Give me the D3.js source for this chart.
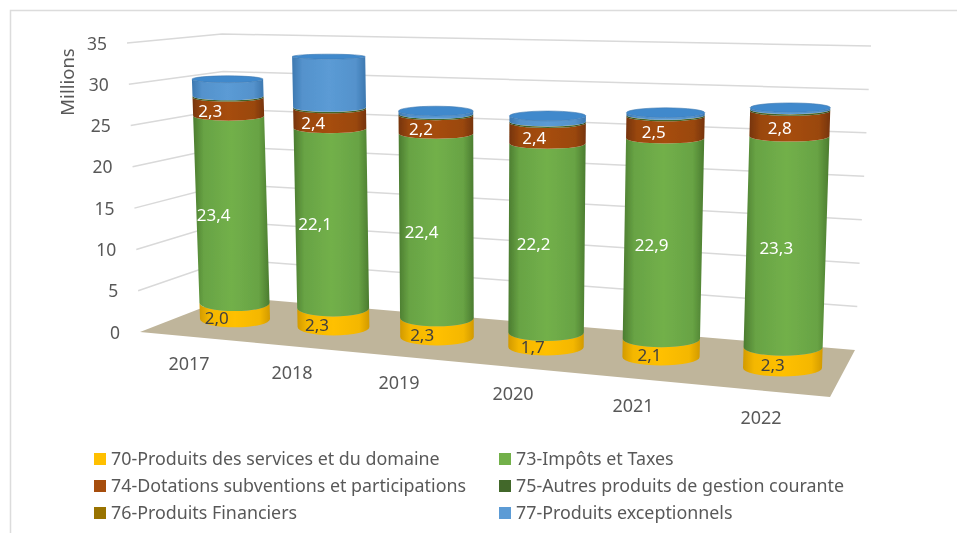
<!DOCTYPE html>
<html><head><meta charset="utf-8">
<script src="https://cdn.jsdelivr.net/npm/d3@7"></script>
<style>html,body{margin:0;padding:0;background:#fff}svg{display:block}text{font-family:"Noto Sans",sans-serif}</style>
</head><body><svg id="c" width="957" height="533"></svg>
<script>
// ---- data ----
const years = ["2017","2018","2019","2020","2021","2022"];
const produits70 = [2.0,2.3,2.3,1.7,2.1,2.3];
const impots73   = [23.4,22.1,22.4,22.2,22.9,23.3];
const dotations74= [2.3,2.4,2.2,2.4,2.5,2.8];
const autres75   = [0.15,0.15,0.15,0.15,0.15,0.15];
const financiers76=[0.02,0.02,0.02,0.02,0.02,0.02];
const exception77= [2.1,6.2,0.35,0.65,0.25,0.2];
const seriesNames = ["70-Produits des services et du domaine","73-Impôts et Taxes","74-Dotations subventions et participations","75-Autres produits de gestion courante","76-Produits Financiers","77-Produits exceptionnels"];
const yTicks = [0,5,10,15,20,25,30,35];
const fmt = v => d3.format(".1f")(v).replace(".",",");

// ---- styles / layout ----
const colors = ["#ffc000","#72b04a","#a64d10","#43682b","#997300","#5b9bd5"];
const edges  = ["#d29a00","#4b7c30","#76340a","#2f4a1e","#6f5400","#3d78b0"];
const series = [produits70,impots73,dotations74,autres75,financiers76,exception77];
const idx = d3.range(years.length);

// perspective scales
const baseX  = d3.scaleLinear().domain(idx).range([235,333.5,437,546,661,782.5]);
const baseY  = d3.scaleLinear().domain(idx).range([319,327,337,347,357,368]);
const unit   = d3.scaleLinear().domain(idx).range([8.0,8.15,8.24,8.52,8.75,9.05]);
const lean   = d3.scaleLinear().domain([0,5]).range([-0.25,0.27]);
const halfW  = d3.scaleLinear().domain([0,5]).range([35,39.5]);
const ryByY  = d3.scaleLinear().domain([60,110,330]).range([2.5,4.8,8.5]).clamp(true);
const labelDx= d3.scaleLinear().domain([0,5]).range([-18,-10]);
const px = (i,v)=>baseX(i)+lean(i)*v;
const py = (i,v)=>baseY(i)-unit(i)*v;
const rr = (i,v)=>ryByY(py(i,v));
const hw = (i,v)=>halfW(i)+v*0.02;

// wall / floor scales
const leftX = d3.scaleLinear().domain([0,35]).range([140,127]);
const leftY = d3.scaleLinear().domain([0,35]).range([332,43]);
const cornerX = d3.scaleLinear().domain([0,35]).range([230,222]);
const cornerY = d3.scaleLinear().domain([0,35]).range([297,34]);
const rightX = d3.scaleLinear().domain([0,35]).range([855,871]);
const rightY = d3.scaleLinear().domain([0,35]).range([350,46]);
const tickX = d3.scaleLinear().domain([0,35]).range([120,107]);
const tickY = d3.scaleLinear().domain([0,35]).range([332,43]);

const svg = d3.select("#c");
const defs = svg.append("defs");
const blur = defs.append("filter").attr("id","soft").attr("x","-2%").attr("y","-2%").attr("width","104%").attr("height","104%");
blur.append("feGaussianBlur").attr("stdDeviation",0.4);
colors.forEach((c,k)=>{
  const g = defs.append("linearGradient").attr("id","g"+k);
  [[0,edges[k]],[0.14,d3.interpolateRgb(edges[k],c)(0.75)],[0.5,c],[0.86,d3.interpolateRgb(edges[k],c)(0.75)],[1,edges[k]]]
    .forEach(s=>g.append("stop").attr("offset",s[0]).attr("stop-color",s[1]));
});
const root = svg.append("g").attr("filter","url(#soft)");

// frame
root.append("path").attr("d","M10.5,533V10.5H957").attr("fill","none").attr("stroke","#dcdcdc").attr("stroke-width",1.5);

// floor
root.append("path").attr("fill","#bfb59b")
  .attr("d",d3.line()([[leftX(0),leftY(0)],[cornerX(0),cornerY(0)],[rightX(0),rightY(0)],[830,397]])+"Z");

// grid
root.append("g").selectAll("path").data(yTicks.slice(1)).join("path")
  .attr("fill","none").attr("stroke","#d9d9d9").attr("stroke-width",1.5)
  .attr("d",v=>d3.line()([[leftX(v),leftY(v)],[cornerX(v),cornerY(v)],[rightX(v),rightY(v)]]));

// y ticks
root.append("g").selectAll("text").data(yTicks).join("text")
  .attr("x",tickX).attr("y",v=>tickY(v)+6.5).attr("text-anchor","end")
  .attr("font-size",17.5).attr("fill","#595959").text(d=>d);
root.append("text").attr("transform","translate(74,82) rotate(-90)").attr("text-anchor","middle")
  .attr("font-size",18.5).attr("fill","#595959").text("Millions");

// columns
const seg = (i,a,b)=>{
  const ra=rr(i,a), rb=rr(i,b), wa=hw(i,a), wb=hw(i,b);
  return `M${px(i,a)-wa},${py(i,a)}A${wa},${ra} 0 0 0 ${px(i,a)+wa},${py(i,a)}L${px(i,b)+wb},${py(i,b)}A${wb},${rb} 0 0 1 ${px(i,b)-wb},${py(i,b)}Z`;
};
const cols = root.append("g");
idx.forEach(i=>{
  let acc=0;
  const g = cols.append("g");
  series.forEach((s,k)=>{
    const a=acc,b=acc+s[i]; acc=b;
    g.append("path").attr("d",seg(i,a,b)).attr("fill",`url(#g${k})`);
  });
  g.append("ellipse").attr("cx",px(i,acc)).attr("cy",py(i,acc)).attr("rx",hw(i,acc)).attr("ry",rr(i,acc))
    .attr("fill","#4189cc").attr("stroke","#3d78b0").attr("stroke-width",0.6);
  // labels
  let acc2=0;
  series.forEach((s,k)=>{
    const a=acc2,b=acc2+s[i]; acc2=b;
    if(k>2) return;
    const m=(a+b)/2;
    g.append("text").attr("x",px(i,m)+labelDx(i)).attr("y",py(i,m)+rr(i,m)*0.9+6)
      .attr("text-anchor","middle").attr("font-size",17)
      .attr("fill",k===0?"#404040":"#ffffff").text(fmt(s[i]));
  });
});

// category labels
const catX = d3.scaleLinear().domain(idx).range([189,292,399,513,633,761]);
const catY = d3.scaleLinear().domain(idx).range([363,372,382,393,405,417]);
root.append("g").selectAll("text").data(idx).join("text")
  .attr("x",catX).attr("y",i=>catY(i)+6.5).attr("text-anchor","middle")
  .attr("font-size",18).attr("fill","#595959").text(i=>years[i]);

// legend
const legX = d3.scaleOrdinal().domain([0,1]).range([94,499]);
const legY = d3.scaleLinear().domain([0,2]).range([459,513]);
const leg = root.append("g").selectAll("g").data(seriesNames).join("g")
  .attr("transform",(d,k)=>`translate(${legX(k%2)},${legY(Math.floor(k/2))})`);
leg.append("rect").attr("x",0).attr("y",-6).attr("width",12).attr("height",12).attr("fill",(d,k)=>colors[k]);
leg.append("text").attr("x",17).attr("y",6).attr("font-size",17.85).attr("fill","#595959").text(d=>d);
</script></body></html>
